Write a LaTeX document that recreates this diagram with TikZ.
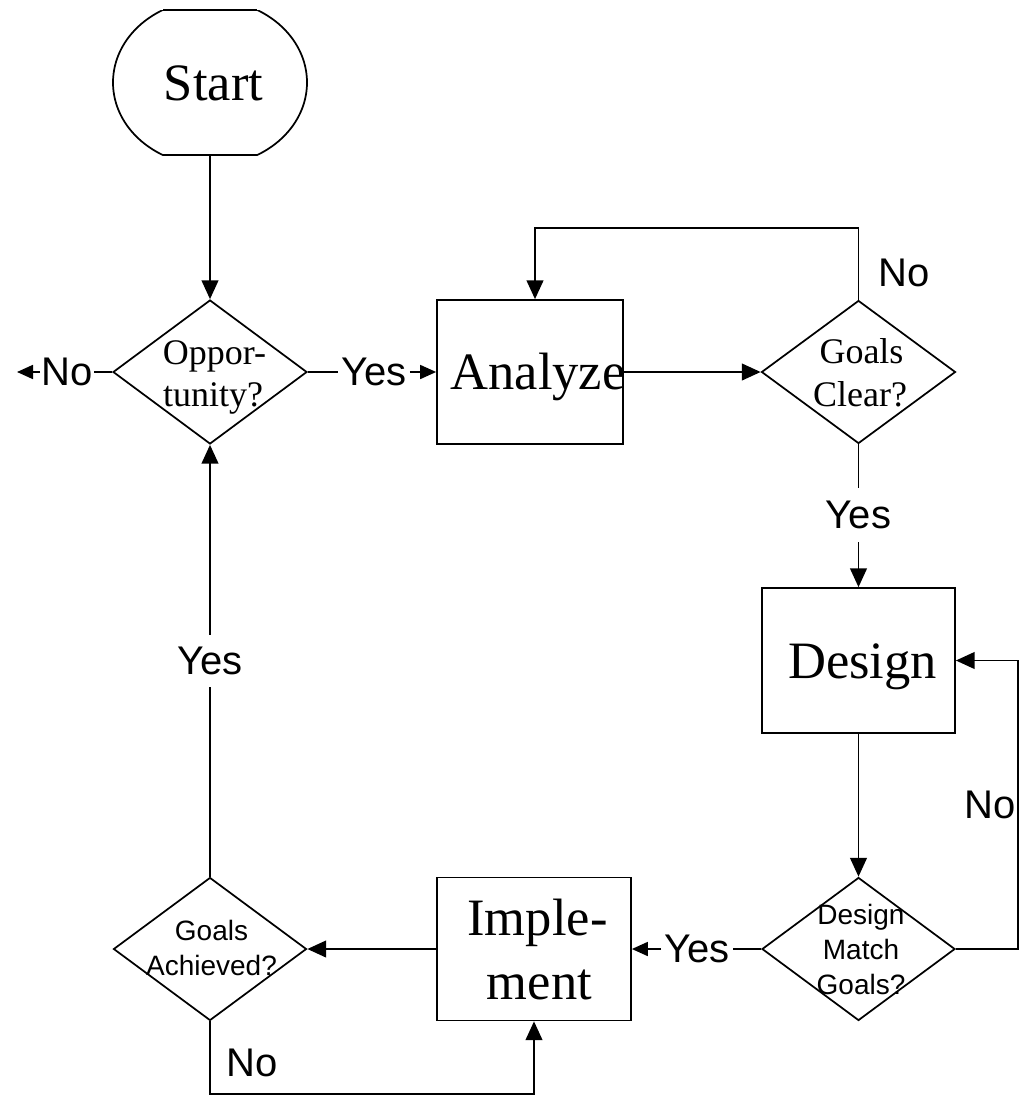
\documentclass[tikz,border=0pt]{standalone}
\usepackage{fontspec}
\setmainfont{Liberation Serif}
\newfontfamily\lsans{Liberation Sans}
\usetikzlibrary{shapes.geometric,arrows.meta}
\begin{document}
\begin{tikzpicture}[x=0.75pt,y=-0.75pt,
  ln/.style={line width=1.3pt},
  box/.style={draw, rectangle, inner sep=0pt, line width=1.3pt},
  dia/.style={draw, diamond, inner sep=0pt, line width=1.3pt},
  bigtxt/.style={inner sep=0pt, anchor=base, font=\fontsize{39.4pt}{48pt}\selectfont},
  midtxt/.style={inner sep=0pt, anchor=base, font=\fontsize{27pt}{31.5pt}\selectfont},
  smalltxt/.style={inner sep=0pt, anchor=base, font=\lsans\fontsize{21pt}{26pt}\selectfont},
  lab/.style={font=\lsans\fontsize{30pt}{36pt}\selectfont, inner sep=0pt},
  arr/.style={line width=1.3pt, -{Triangle[length=14pt,width=12.5pt]}},
  sarr/.style={line width=1.3pt, -{Triangle[length=12pt,width=10.5pt]}},
]
\fill[white] (0,0) rectangle (1026,1103);
\useasboundingbox (0,0) rectangle (1026,1103);

% Start terminal
\node[minimum width=145.5pt, minimum height=108.75pt, inner sep=0pt] (start) at (210,82.5) {};
\begin{scope}
  \clip (100,10) rectangle (320,155);
  \draw[ln] (210,82.5) ellipse [x radius=72.75pt, y radius=62.25pt];
\end{scope}
\draw[ln] (163,10) -- (257,10) (163,155) -- (257,155);
\node[bigtxt] (startT) at (213.5,100) {Start};

% Opportunity?
\node[dia, minimum width=145.5pt, minimum height=108pt] (opp) at (210,372) {};
\node[midtxt] (oppA) at (214.5,364) {Oppor-};
\node[midtxt] (oppB) at (213,406) {tunity?};

% Analyze
\node[box, minimum width=139.5pt, minimum height=108pt] (ana) at (530,372) {};
\node[bigtxt] (anaT) at (538,389) {Analyze};

% Goals Clear?
\node[dia, minimum width=145.5pt, minimum height=107.25pt] (gc) at (858.5,372) {};
\node[midtxt] (gcA) at (861.5,363) {Goals};
\node[midtxt] (gcB) at (860,406) {Clear?};

% Design
\node[box, minimum width=144.75pt, minimum height=108.75pt] (des) at (858.5,660.5) {};
\node[bigtxt] (desT) at (862.5,678) {Design};

% Design Match Goals?
\node[dia, minimum width=144.75pt, minimum height=107.25pt] (dm) at (858.5,949) {};
\node[smalltxt] (dmA) at (861,924) {Design};
\node[smalltxt] (dmB) at (861,959) {Match};
\node[smalltxt] (dmC) at (861,994) {Goals?};

% Implement
\node[box, minimum width=145.5pt, minimum height=107.25pt] (imp) at (534,949) {};
\node[bigtxt] (impA) at (537.5,935) {Imple-};
\node[bigtxt] (impB) at (539.5,999) {ment};

% Goals Achieved?
\node[dia, minimum width=144.75pt, minimum height=107.25pt] (ga) at (210,949) {};
\node[smalltxt] (gaA) at (211.5,940) {Goals};
\node[smalltxt] (gaB) at (211.5,975) {Achieved?};

% labels
\node[lab, inner xsep=0.75pt] (noL) at (67,372) {No};
\coordinate (tipL) at (17,372);
\node[lab, inner xsep=2.25pt] (yesA) at (374,372) {Yes};
\node[lab] (noT) at (904,273) {No};
\node[lab, inner ysep=9.75pt] (yesB) at (858.5,515) {Yes};
\node[lab] (noR) at (990,805) {No};
\node[lab, inner xsep=2.25pt] (yesC) at (697,949) {Yes};
\node[lab, inner ysep=9pt] (yesD) at (210,661) {Yes};
\node[lab] (noB) at (252,1063) {No};

% connectors
\draw[arr] (start.south) -- (opp.north);
\draw[ln] (opp.west) -- (noL.east);
\draw[sarr] (noL.west) -- (tipL);
\draw[ln] (opp.east) -- (yesA.west);
\draw[sarr] (yesA.east) -- (ana.west);
\draw[arr] (ana.east) -- (gc.west);
\coordinate (loop) at (535,228);
\draw[arr] (gc.north) |- (loop) -- (loop |- ana.north);
\draw[ln] (gc.south) -- (yesB.north);
\draw[arr] (yesB.south) -- (des.north);
\draw[arr] (des.south) -- (dm.north);
\coordinate (rt) at (1018,660.5);
\draw[arr] (dm.east) -| (rt) -- (des.east);
\draw[ln] (dm.west) -- (yesC.east);
\draw[sarr] (yesC.west) -- (imp.east);
\draw[arr] (imp.west) -- (ga.east);
\draw[ln] (ga.north) -- (yesD.south);
\draw[arr] (yesD.north) -- (opp.south);
\coordinate (bt) at (210,1094);
\draw[arr] (ga.south) -- (bt) -| (imp.south);
\end{tikzpicture}
\end{document}
